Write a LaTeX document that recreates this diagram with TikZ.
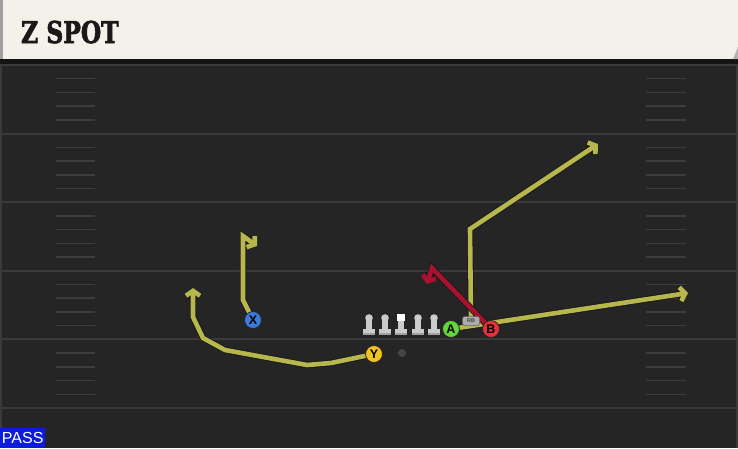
\documentclass[tikz,border=0pt]{standalone}
\usepackage{fontspec}
\setmainfont{Liberation Sans}
\newfontfamily\titlefont[FakeBold=2.5]{DejaVu Serif}
\usetikzlibrary{arrows.meta}
\pgfdeclarelayer{fieldlayer}
\pgfdeclarelayer{routelayer}
\pgfsetlayers{fieldlayer,routelayer,main}
\definecolor{field}{HTML}{252525}
\definecolor{yard}{HTML}{3A3A3A}
\definecolor{hashc}{HTML}{3D3D3D}
\definecolor{cream}{HTML}{F4F1EA}
\definecolor{routey}{HTML}{B8B74E}
\definecolor{router}{HTML}{A8122E}
\definecolor{pxc}{HTML}{3B7BDB}
\definecolor{pyc}{HTML}{F2C21F}
\definecolor{pac}{HTML}{62D63B}
\definecolor{pbc}{HTML}{E6313C}
\definecolor{passblue}{HTML}{0B1BE0}
\definecolor{linemanc}{HTML}{CBCBCB}
\tikzset{
  player/.style={circle, draw=black!85, line width=0.8pt, minimum size=17pt, inner sep=0pt,
    font=\bfseries\fontsize{12.5}{12.5}\selectfont, text=black},
  routetip/.style={-{Straight Barb[length=5pt,width=14pt]}},
  yroute/.style={draw=routey, line width=4.6pt, routetip,
    preaction={draw=black!90, line width=6.4pt, routetip}},
  rroute/.style={draw=router, line width=4.6pt, routetip,
    preaction={draw=black!90, line width=6.4pt, routetip}},
  yardline/.style={draw=yard, line width=2pt},
  hashline/.style={draw=hashc, line width=1.5pt},
  lineman/.pic={
    \fill[linemanc!80!black] (-6.2,11) rectangle (6.2,17);
    \fill[linemanc] (-6.2,11) rectangle (6.2,14.5);
    \fill[linemanc] (-2.8,0) rectangle (2.8,12);
    \fill[linemanc] (0,0) circle (3.8);
  },
  centerman/.pic={
    \fill[linemanc!80!black] (-6.2,11) rectangle (6.2,17);
    \fill[linemanc] (-6.2,11) rectangle (6.2,14.5);
    \fill[linemanc] (-2.8,0) rectangle (2.8,12);
    \fill[white] (-3.8,-4) rectangle (3.8,3);
  }
}
\begin{document}
\begin{tikzpicture}[x=1pt,y=-1pt]
\useasboundingbox (0,0) rectangle (738,448);
% field
\begin{pgfonlayer}{fieldlayer}
\fill[field] (0,0) rectangle (738,448);
\fill[yard] (0,60) rectangle (2,448);
\fill[yard] (736,60) rectangle (738,448);
\foreach \k in {0,...,5} {
  \draw[yardline] (0,65+68.6*\k) -- (738,65+68.6*\k);
}
\foreach \k in {0,...,4} {
  \foreach \j in {1,...,4} {
    \draw[hashline] (56,65+68.6*\k+13.72*\j) -- (95,65+68.6*\k+13.72*\j);
    \draw[hashline] (646,65+68.6*\k+13.72*\j) -- (686,65+68.6*\k+13.72*\j);
  }
}
% header
\fill[black!92] (0,58) rectangle (738,64);
\fill[cream] (0,0) rectangle (738,59);
\fill[gray!75] (0,0) rectangle (3,59);
\fill[gray!60] (733,59) -- (738,47) -- (738,59) -- cycle;
\end{pgfonlayer}
\node[anchor=base west, inner sep=0pt, xscale=0.78,
  font=\titlefont\bfseries\fontsize{30}{30}\selectfont, text=black!90] (title) at (21,43) {Z SPOT};
% linemen
\pic at (369,318) {lineman};
\pic at (385,318) {lineman};
\pic at (401,318) {centerman};
\pic at (418,318) {lineman};
\pic at (434,318) {lineman};
% players
\node[circle, fill=gray!55!black, minimum size=8pt, inner sep=0pt] (qb) at (402,353) {};
\node[player, fill=pxc] (X) at (253,320) {X};
\node[player, fill=pyc] (Y) at (374,354) {Y};
\node[player, fill=pac] (A) at (451,329) {A};
\node[player, fill=pbc] (B) at (491,329) {B};
\node[rounded corners=1.5pt, fill=gray!65, draw=black!60, line width=0.5pt, inner sep=0pt,
  minimum width=17pt, minimum height=9pt, text=black!75,
  font=\bfseries\fontsize{5.5}{5.5}\selectfont] (rb) at (471,321) {RB};
% route points
\coordinate (x1) at (243,300);
\coordinate (x2) at (243,236);
\coordinate (x3) at (257,246);
\coordinate (y1) at (331,363);
\coordinate (y2) at (307,365);
\coordinate (y3) at (225,350);
\coordinate (y4) at (203,338);
\coordinate (y5) at (193,317);
\coordinate (y6) at (193,288);
\coordinate (r1) at (470,229);
\coordinate (r2) at (598,144);
\coordinate (a1) at (688,293);
\coordinate (b1) at (432,268);
\coordinate (b2) at (427,284);
\begin{pgfonlayer}{routelayer}
\draw[yroute] (X.center) -- (x1) -- (x2) -- (x3);
\draw[yroute] (Y.center) -- (y1) -- (y2) -- (y3) -- (y4) -- (y5) -- (y6);
\draw[yroute] (rb.center) -- (r1) -- (r2);
\draw[yroute] (A.center) -- (a1);
\draw[rroute] (B.center) -- (b1) -- (b2);
\end{pgfonlayer}
% pass tag
\node[fill=passblue, anchor=south west, minimum width=45pt, minimum height=20pt, inner sep=0pt,
  text=white, font=\fontsize{16}{16}\selectfont] (pass) at (0,448) {PASS};
\end{tikzpicture}
\end{document}
